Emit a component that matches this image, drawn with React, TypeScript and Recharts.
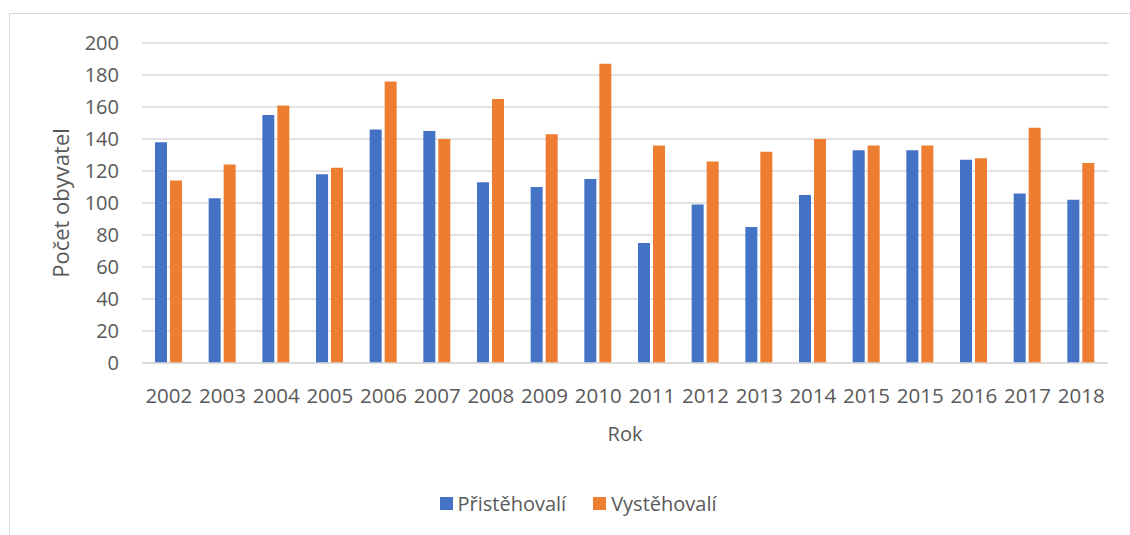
import React from 'react';
import { BarChart, Bar, XAxis, YAxis, CartesianGrid, Legend, Label } from 'recharts';

const years = ['2002', '2003', '2004', '2005', '2006', '2007', '2008', '2009', '2010', '2011', '2012', '2013', '2014', '2015', '2015', '2016', '2017', '2018'];
const pristehovali = [138, 103, 155, 118, 146, 145, 113, 110, 115, 75, 99, 85, 105, 133, 133, 127, 106, 102];
const vystehovali = [114, 124, 161, 122, 176, 140, 165, 143, 187, 136, 126, 132, 140, 136, 136, 128, 147, 125];
const yTicks = [0, 20, 40, 60, 80, 100, 120, 140, 160, 180, 200];

const data = years.map((y, i) => ({ idx: i, year: y, p: pristehovali[i], v: vystehovali[i] }));

const FONT = '"Open Sans", sans-serif';
const TEXT = '#595959';

const LegendContent = (props: any) => {
  const { payload } = props;
  return (
    <div style={{ display: 'flex', justifyContent: 'center', alignItems: 'center', fontFamily: FONT, fontSize: 20, color: TEXT }}>
      {(payload || []).map((e: any, i: number) => (
        <div key={i} style={{ display: 'flex', alignItems: 'center', marginRight: i === 0 ? 27 : 0 }}>
          <span style={{ display: 'inline-block', width: 13, height: 13, background: e.color, marginRight: 5 }} />
          <span>{e.value}</span>
        </div>
      ))}
    </div>
  );
};

export default function App() {
  return (
    <div style={{ position: 'absolute', left: 0, top: 0, width: 1130, height: 535, background: '#fff', overflow: 'hidden' }}>
      <div style={{ position: 'absolute', left: 9, top: 13, width: 1140, height: 560, border: '1px solid #D9D9D9', boxSizing: 'border-box' }} />
      <div style={{ position: 'absolute', left: 0, top: 0 }}>
        <BarChart width={1130} height={535} data={data} margin={{ top: 43, right: 22, left: 0, bottom: 0 }} barSize={12} barGap={3}>
          <CartesianGrid vertical={false} stroke="#D9D9D9" strokeWidth={1.3} />
          <XAxis
            dataKey="idx"
            type="category"
            height={172}
            axisLine={{ stroke: '#D9D9D9', strokeWidth: 1.3 }}
            tickLine={false}
            tickMargin={19}
            interval={0}
            tickFormatter={(v: any) => years[v]}
            tick={{ fill: TEXT, fontSize: 20.5, fontFamily: FONT }}
          >
            <Label
              content={(p: any) => {
                const vb = p.viewBox;
                return (
                  <text x={vb.x + vb.width / 2} y={vb.y + 78} textAnchor="middle" fill={TEXT} fontSize={20} fontFamily={FONT}>
                    Rok
                  </text>
                );
              }}
            />
          </XAxis>
          <YAxis
            width={142}
            domain={[0, 200]}
            ticks={yTicks}
            axisLine={false}
            tickLine={false}
            tickMargin={17}
            tick={{ fill: TEXT, fontSize: 20, fontFamily: FONT }}
          >
            <Label
              content={(p: any) => {
                const vb = p.viewBox;
                const cx = vb.x + 60;
                const cy = vb.y + vb.height / 2;
                return (
                  <text x={cx} y={cy} transform={`rotate(-90 ${cx} ${cy})`} textAnchor="middle" dominantBaseline="central" fill={TEXT} fontSize={22} fontFamily={FONT}>
                    Počet obyvatel
                  </text>
                );
              }}
            />
          </YAxis>
          <Legend
            verticalAlign="middle"
            layout="horizontal"
            content={<LegendContent />}
            wrapperStyle={{ top: 490, left: 0, width: 1156 }}
          />
          <Bar dataKey="p" name="Přistěhovalí" fill="#4472C4" isAnimationActive={false} />
          <Bar dataKey="v" name="Vystěhovalí" fill="#ED7D31" isAnimationActive={false} />
        </BarChart>
      </div>
    </div>
  );
}
